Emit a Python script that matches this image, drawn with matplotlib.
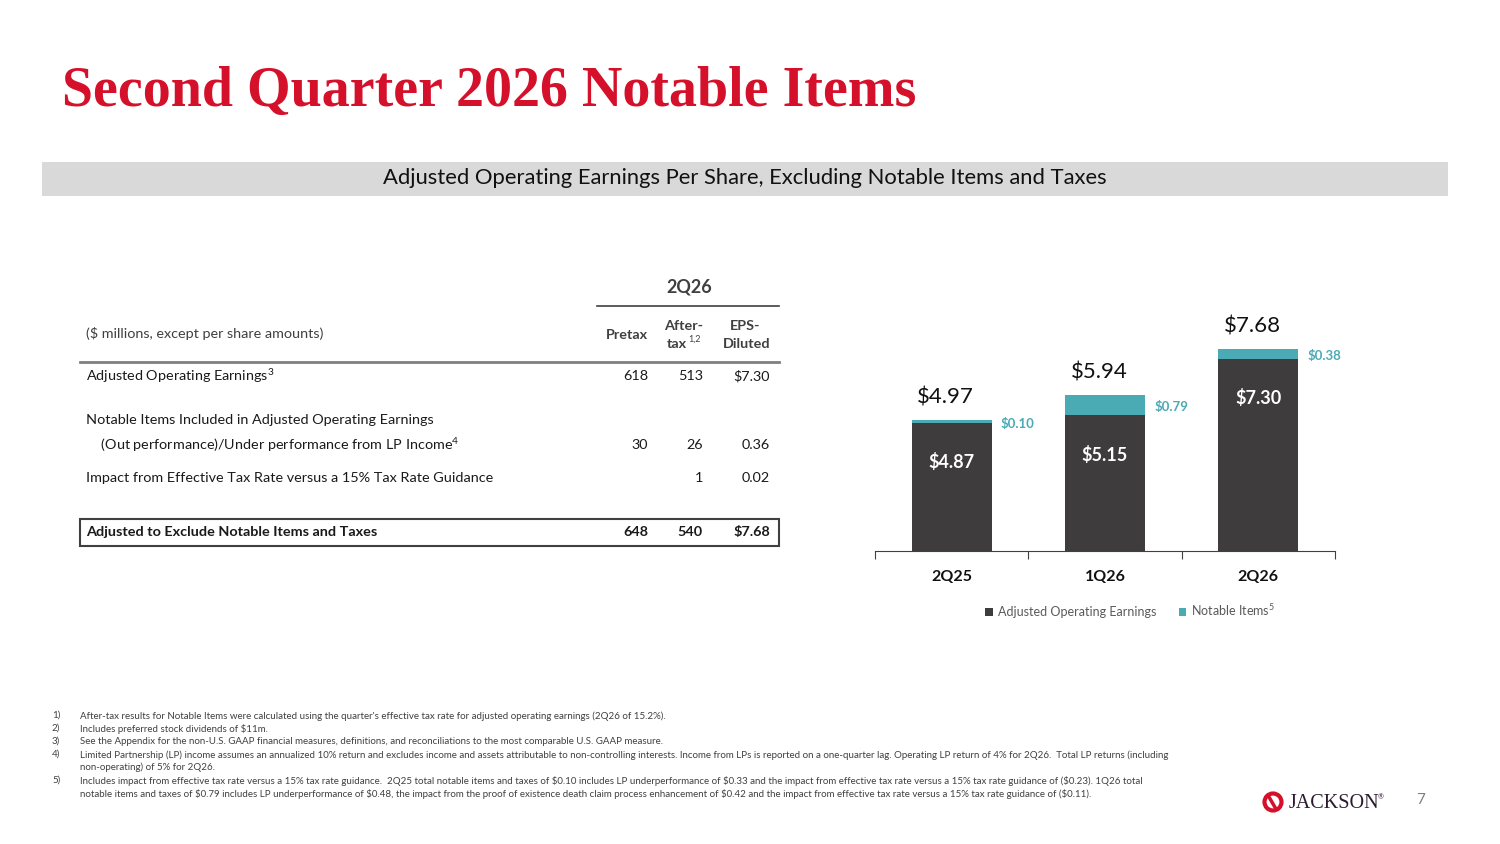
import matplotlib
matplotlib.use("Agg")
import matplotlib.pyplot as plt
from matplotlib.patches import Rectangle, Ellipse

# Chart data
quarters = ["2Q25", "1Q26", "2Q26"]
adj_op_eps = [4.87, 5.15, 7.30]
notable_eps = [0.10, 0.79, 0.38]
total_eps = [4.97, 5.94, 7.68]

# Table data
row_labels = [
    "Adjusted Operating Earnings$^3$",
    "Notable Items Included in Adjusted Operating Earnings",
    "    (Out performance)/Under performance from LP Income$^4$",
    "Impact from Effective Tax Rate versus a 15% Tax Rate Guidance",
    "Adjusted to Exclude Notable Items and Taxes",
]
pretax = ["618", "", "30", "", "648"]
aftertax = ["513", "", "26", "1", "540"]
eps_diluted = ["$7.30", "", "0.36", "0.02", "$7.68"]

footnotes = [
    ("1)", "After-tax results for Notable Items were calculated using the quarter's effective tax rate for adjusted operating earnings (2Q26 of 15.2%)."),
    ("2)", "Includes preferred stock dividends of $11m."),
    ("3)", "See the Appendix for the non-U.S. GAAP financial measures, definitions, and reconciliations to the most comparable U.S. GAAP measure."),
    ("4)", "Limited Partnership (LP) income assumes an annualized 10% return and excludes income and assets attributable to non-controlling interests. Income from LPs is reported on a one-quarter lag. Operating LP return of 4% for 2Q26.  Total LP returns (including\nnon-operating) of 5% for 2Q26."),
    ("5)", "Includes impact from effective tax rate versus a 15% tax rate guidance.  2Q25 total notable items and taxes of $0.10 includes LP underperformance of $0.33 and the impact from effective tax rate versus a 15% tax rate guidance of ($0.23). 1Q26 total\nnotable items and taxes of $0.79 includes LP underperformance of $0.48, the impact from the proof of existence death claim process enhancement of $0.42 and the impact from effective tax rate versus a 15% tax rate guidance of ($0.11)."),
]

DARK = "#3f3c3d"
TEAL = "#4aabb5"
RED = "#d5102b"
SANS = ["Lato", "DejaVu Sans"]
plt.rcParams["font.family"] = SANS
plt.rcParams["mathtext.fontset"] = "custom"
plt.rcParams["mathtext.rm"] = "Lato"

W, H = 1500, 844
fig = plt.figure(figsize=(15, 8.44), dpi=100)


def fx(x):
    return x / W


def fy(y):
    return 1 - y / H


def hline(x0, x1, y, lw=1.0, color="#404040"):
    fig.add_artist(plt.Line2D([fx(x0), fx(x1)], [fy(y), fy(y)], lw=lw, color=color))


# Title and banner
fig.text(fx(62), fy(92), "Second Quarter 2026 Notable Items", fontsize=40.3, fontweight="bold",
         color=RED, family="Liberation Serif", va="center", ha="left")
fig.add_artist(Rectangle((fx(42), fy(196)), fx(1406), 34 / H, color="#d9d9d9", lw=0))
fig.text(fx(745), fy(178), "Adjusted Operating Earnings Per Share, Excluding Notable Items and Taxes",
         fontsize=15.8, ha="center", va="center", color="#111111")

# Table
FS = 10.4
col_x = [648, 703, 770]
fig.text(fx(689), fy(287), "2Q26", fontsize=13, fontweight="bold", ha="center", va="center", color="#404040")
hline(597, 779, 306, lw=1.2)
fig.text(fx(86), fy(334), "($ millions, except per share amounts)", fontsize=FS, va="center",
         color="#404040", parse_math=False)
fig.text(fx(col_x[0]), fy(335), "Pretax", fontsize=FS, fontweight="bold", ha="right", va="center", color="#404040")
fig.text(fx(col_x[1]), fy(326), "After-", fontsize=FS, fontweight="bold", ha="right", va="center", color="#404040")
fig.text(fx(687), fy(344), "tax", fontsize=FS, fontweight="bold", ha="right", va="center", color="#404040")
fig.text(fx(688), fy(339), "1,2", fontsize=6.5, ha="left", va="center", color="#404040")
fig.text(fx(col_x[2] - 10), fy(326), "EPS-", fontsize=FS, fontweight="bold", ha="right", va="center", color="#404040")
fig.text(fx(col_x[2]), fy(344), "Diluted", fontsize=FS, fontweight="bold", ha="right", va="center", color="#404040")
hline(80, 779, 362, lw=2, color="#7f7f7f")

row_y = [376, 420, 445, 478, 532]
for i, label in enumerate(row_labels):
    bold = i == len(row_labels) - 1
    fw = "bold" if bold else "normal"
    fig.text(fx(86), fy(row_y[i]), label, fontsize=FS, fontweight=fw, va="center", color="#1a1a1a")
    for x, col in zip(col_x, [pretax, aftertax, eps_diluted]):
        if col[i]:
            fig.text(fx(x), fy(row_y[i]), col[i], fontsize=FS, fontweight=fw, ha="right", va="center",
                     color="#1a1a1a", parse_math=False)
fig.add_artist(Rectangle((fx(80), fy(546)), fx(699), 27 / H, fill=False, ec="#404040", lw=1.5))

# Bar chart
ax = fig.add_axes([fx(875), fy(551), fx(460), 237 / H])
x = range(len(quarters))
ax.bar(x, adj_op_eps, width=0.52, color=DARK, label="Adjusted Operating Earnings")
ax.bar(x, notable_eps, width=0.52, bottom=adj_op_eps, color=TEAL, label="Notable Items$^5$")
ax.set_xlim(-0.5, 2.5)
ax.set_ylim(0, 9)
for i in x:
    ax.text(i, adj_op_eps[i] - 1.5, f"${adj_op_eps[i]:.2f}", color="white", fontsize=13,
            fontweight="bold", ha="center", va="center", parse_math=False)
    ax.text(i + 0.32, total_eps[i] - notable_eps[i] / 2 - 0.08, f"${notable_eps[i]:.2f}", color=TEAL,
            fontsize=9.5, fontweight="bold", ha="left", va="center", parse_math=False)
    ax.text(i - 0.04, total_eps[i] + 0.85, f"${total_eps[i]:.2f}", color="#111111", fontsize=16,
            ha="center", va="center", parse_math=False)
for s in ["top", "right", "left"]:
    ax.spines[s].set_visible(False)
ax.spines["bottom"].set_color("#404040")
ax.set_yticks([])
ax.set_xticks([-0.5, 0.5, 1.5, 2.5])
ax.set_xticklabels([])
ax.set_xticks(list(x), minor=True)
ax.set_xticklabels(quarters, minor=True, fontsize=11.5, fontweight="bold", color="#111111")
ax.tick_params(axis="x", which="major", length=6, color="#404040")
ax.tick_params(axis="x", which="minor", length=0, pad=14)
ax.legend(loc="upper center", bbox_to_anchor=(0.555, -0.17), ncol=2, frameon=False, fontsize=9,
          handlelength=0.6, handleheight=0.6, columnspacing=1.8, handletextpad=0.4, labelcolor="#595959")

# Footnotes
fn_y = 716
for num, text in footnotes:
    fig.text(fx(52), fy(fn_y - 5), num, fontsize=7.0, va="top", color="#404040")
    fig.text(fx(80), fy(fn_y - 5), text, fontsize=7.0, va="top", color="#404040", linespacing=1.43,
             parse_math=False)
    fn_y += 13 * (text.count("\n") + 1)

# Logo and page number
fig.add_artist(Ellipse((fx(1273), fy(802)), 17 / W, 17 / H, fill=False, ec=RED, lw=3))
fig.add_artist(plt.Line2D([fx(1269), fx(1276)], [fy(797), fy(809)], lw=2.5, color=RED))
fig.text(fx(1289), fy(803), "JACKSON", fontsize=14.5, family="Liberation Serif", color="#2b1b2e",
         va="center", ha="left")
fig.text(fx(1378), fy(797), "\u00ae", fontsize=5, color="#2b1b2e", va="center")
fig.text(fx(1421), fy(800), "7", fontsize=11, color="#7f7f7f", va="center", ha="center")

fig.savefig("out.png", dpi=100)
